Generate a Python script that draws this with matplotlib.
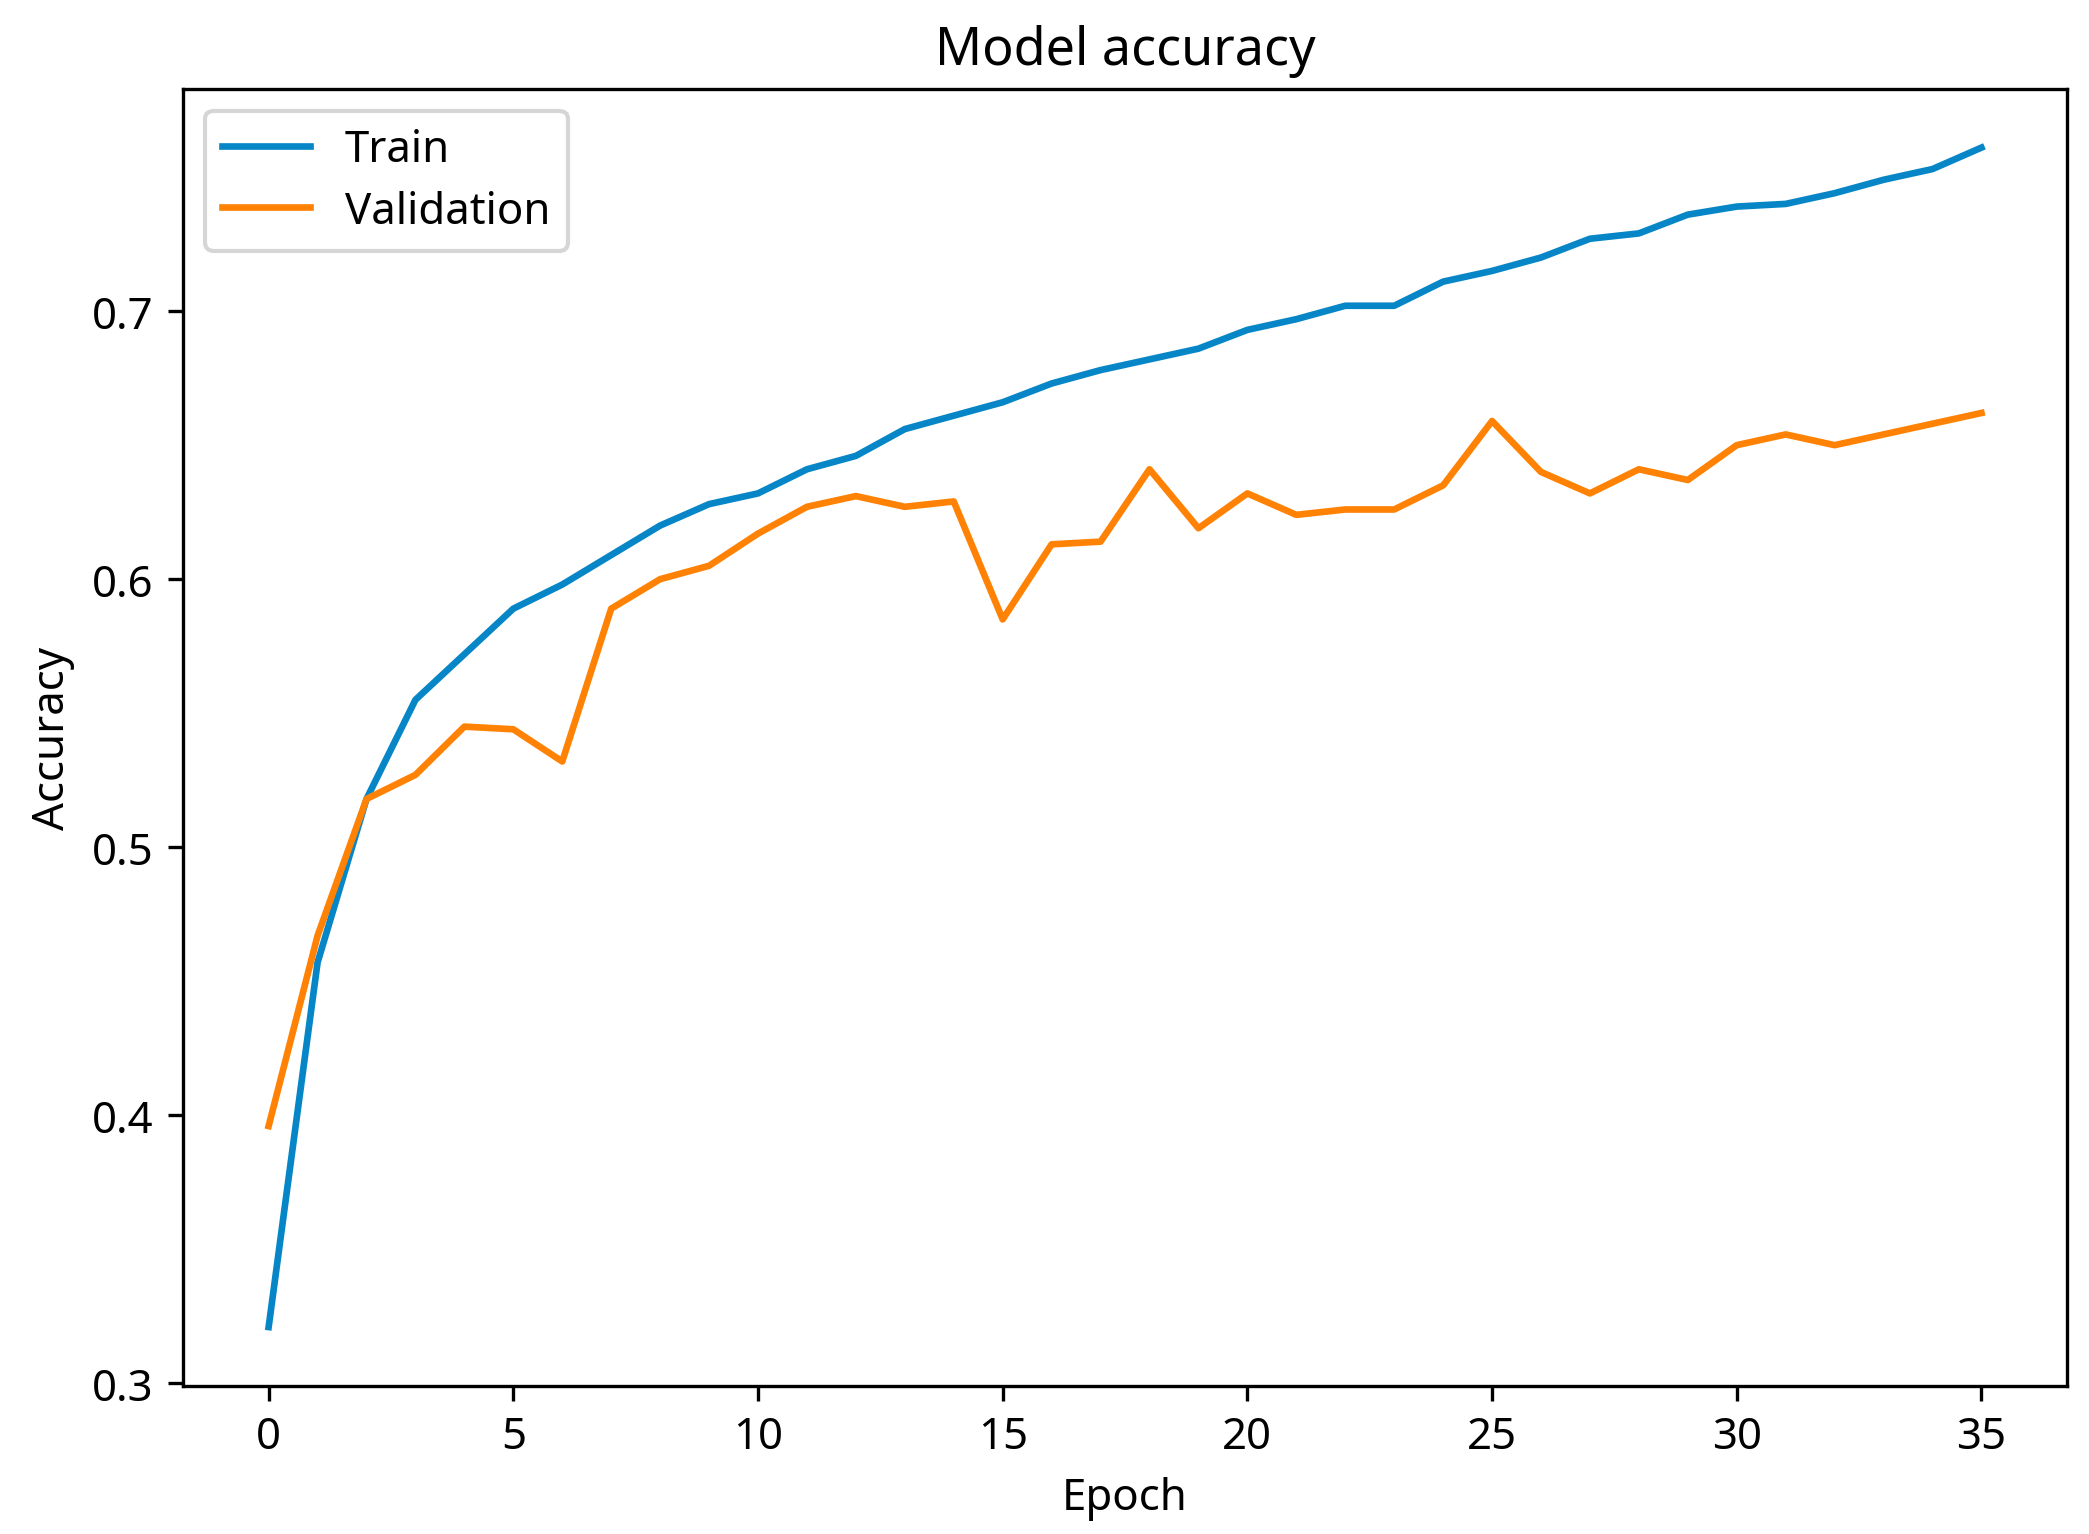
import matplotlib
matplotlib.use("Agg")
import matplotlib.pyplot as plt

epochs = list(range(36))

train_acc = [0.321, 0.457, 0.518, 0.555, 0.572, 0.589, 0.598, 0.609, 0.620, 0.628,
             0.632, 0.641, 0.646, 0.656, 0.661, 0.666, 0.673, 0.678, 0.682, 0.686,
             0.693, 0.697, 0.702, 0.702, 0.711, 0.715, 0.720, 0.727, 0.729, 0.736,
             0.739, 0.740, 0.744, 0.749, 0.753, 0.761]

val_acc = [0.396, 0.467, 0.518, 0.527, 0.545, 0.544, 0.532, 0.589, 0.600, 0.605,
           0.617, 0.627, 0.631, 0.627, 0.629, 0.585, 0.613, 0.614, 0.641, 0.619,
           0.632, 0.624, 0.626, 0.626, 0.635, 0.659, 0.640, 0.632, 0.641, 0.637,
           0.650, 0.654, 0.650, 0.654, 0.658, 0.662]

plt.rcParams["font.family"] = ["Noto Sans", "DejaVu Sans"]
plt.rcParams["font.size"] = 10.5
plt.rcParams["axes.titlesize"] = 12.5
plt.rcParams["legend.labelspacing"] = 0.4

fig = plt.figure(figsize=(2089 / 300, 1535 / 300), dpi=300)
ax = fig.add_axes([0.0876, 0.0964, 0.9895 - 0.0876, 0.9416 - 0.0964])

ax.plot(epochs, train_acc, color="#0686c6", label="Train", linewidth=1.6)
ax.plot(epochs, val_acc, color="#ff8205", label="Validation", linewidth=1.6)

ax.set_title("Model accuracy")
ax.set_xlabel("Epoch")
ax.set_ylabel("Accuracy")
ax.legend(loc="upper left")

fig.savefig("out.png", dpi=300)
